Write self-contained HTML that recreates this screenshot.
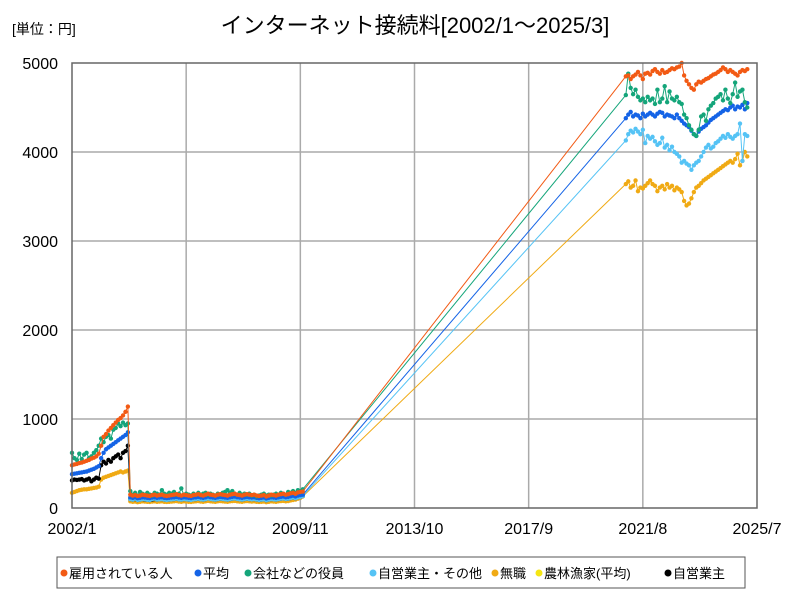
<!DOCTYPE html>
<html><head><meta charset="utf-8">
<style>
body{margin:0;background:#fff;}
svg{font-family:"Liberation Sans","Noto Sans CJK JP",sans-serif;}
</style></head>
<body>
<svg id="chart" width="800" height="600" viewBox="0 0 800 600" xmlns="http://www.w3.org/2000/svg">
<rect width="800" height="600" fill="#fff"/>
<text x="415" y="33" font-size="22" text-anchor="middle" fill="#000">インターネット接続料[2002/1～2025/3]</text>
<text x="12" y="34" font-size="14" fill="#000">[単位：円]</text>
<g id="grid"></g>
<g id="series"></g>
<rect x="72" y="63" width="685" height="445" fill="none" stroke="#666" stroke-width="1.5"/>
<g id="legend">
<rect x="57" y="557" width="688" height="31" fill="#fff" stroke="#555" stroke-width="1"/>
</g>
</svg>
<script>
const xTickLabels=["2002/1","2005/12","2009/11","2013/10","2017/9","2021/8","2025/7"];
const yTickLabels=[0,1000,2000,3000,4000,5000];
const seriesNames=["雇用されている人","平均","会社などの役員","自営業主・その他","無職","農林漁家(平均)","自営業主"];
const seriesColors=["#f25a14","#1463e6","#14a57a","#55c3f5","#f0aa14","#f5e614","#000000"];
const earlyStart=[0,0,0,24,0,24,0];
const lateStart=228;
const orangeEarly=[480,490,495,505,510,520,530,540,555,565,580,610,700,800,830,870,900,930,960,990,1010,1040,1080,1140,150,140,145,135,140,150,145,140,135,145,150,140,145,150,140,135,140,145,150,155,145,140,150,145,140,135,145,150,155,145,140,150,160,150,145,140,150,155,150,145,140,150,155,160,150,145,140,150,155,150,145,150,140,135,140,145,130,140,150,145,140,150,155,160,150,155,165,170,160,175,180,185];
const blueEarly=[380,385,390,395,400,405,410,420,430,440,455,470,560,620,660,680,700,720,740,760,780,800,820,850,120,115,120,110,115,120,118,115,112,118,120,115,118,120,115,112,115,118,120,125,118,115,120,118,115,112,118,120,125,118,115,120,128,122,118,115,120,125,122,118,115,120,125,128,122,118,115,120,125,120,118,120,115,110,115,118,108,115,120,118,115,120,125,128,122,125,132,138,130,140,145,150];
const greenEarly=[620,560,540,610,550,600,620,560,580,620,650,700,780,740,800,820,780,880,900,950,920,960,930,950,190,150,170,140,180,160,150,170,150,140,170,160,150,200,160,150,170,160,180,150,160,220,150,160,150,140,160,150,170,150,160,170,150,160,150,140,160,150,170,180,200,170,190,160,150,170,150,160,150,160,140,150,130,140,150,160,140,150,140,150,160,150,170,160,150,180,170,190,170,200,190,210];
const lightblueEarly=[100,95,105,90,95,100,98,92,90,100,105,95,98,100,95,90,95,98,100,105,98,95,100,98,95,90,98,100,105,98,95,100,108,102,98,95,100,105,102,98,95,100,105,108,102,98,95,100,105,100,98,100,95,90,95,98,88,95,100,98,95,100,105,108,102,105,112,118,110,120,125,135];
const mushokuEarly=[170,180,190,200,205,210,210,215,220,225,230,240,320,340,350,360,370,380,390,400,410,400,410,420,75,70,72,65,70,75,72,70,68,72,75,70,72,75,70,68,70,72,75,78,72,70,75,72,70,68,72,75,78,72,70,75,80,75,72,70,75,78,75,72,70,75,78,80,75,72,70,75,78,75,72,75,70,68,70,72,65,70,75,72,70,75,78,80,75,78,85,90,95,105,115,130];
const nouringyoEarly=[110,105,110,100,105,110,108,105,102,108,110,105,108,110,105,102,105,108,110,115,108,105,110,108,105,102,108,110,115,108,105,110,118,112,108,105,110,115,112,108,105,110,115,118,112,108,105,110,115,110,108,110,105,100,105,108,98,105,110,108,105,110,115,118,112,115,122,128,120,130,135,145];
const blackEarly=[310,320,315,320,325,310,320,330,300,320,340,330,480,520,500,540,520,560,580,600,560,620,640,700,100,95,100,90,95,100,95,92,90,95,100,95,98,100,95,92,95,98,100,105,98,95,100,98,95,92,98,100,105,98,95,100,108,102,98,95,100,105,102,98,95,100,105,108,102,98,95,100,105,100,98,100,95,90,95,98,88,95,100,98,95,100,105,108,102,105,112,118,110,120,125,135];
const orangeLate=[4850,4860,4820,4850,4870,4900,4860,4820,4880,4890,4870,4910,4930,4900,4880,4920,4890,4900,4920,4940,4930,4950,4960,5000,4860,4800,4760,4720,4700,4760,4790,4780,4800,4820,4830,4850,4870,4880,4900,4920,4950,4930,4900,4920,4900,4880,4860,4900,4920,4910,4930];
const blueLate=[4380,4420,4450,4400,4420,4410,4380,4430,4400,4420,4440,4420,4400,4430,4450,4440,4400,4420,4410,4400,4380,4420,4380,4350,4320,4300,4280,4240,4200,4180,4230,4260,4280,4300,4330,4360,4380,4400,4420,4440,4460,4480,4470,4500,4520,4480,4510,4500,4530,4480,4550];
const greenLate=[4640,4880,4720,4650,4700,4620,4580,4600,4560,4620,4580,4600,4540,4700,4560,4600,4740,4560,4680,4600,4580,4620,4560,4540,4420,4380,4300,4250,4200,4180,4250,4400,4420,4350,4480,4520,4550,4600,4620,4650,4580,4700,4600,4550,4650,4780,4620,4680,4700,4560,4500];
const lightblueLate=[4130,4200,4240,4220,4260,4230,4200,4250,4100,4180,4150,4170,4120,4080,4100,4160,4050,4080,4020,4060,4000,3980,3950,3880,3900,3870,3850,3800,3850,3880,3900,3950,4000,4050,4080,4040,4060,4100,4120,4150,4180,4160,4200,4170,4150,4180,4200,4320,3900,4200,4180];
const mushokuLate=[3640,3670,3600,3620,3680,3560,3600,3590,3620,3650,3680,3640,3620,3560,3600,3620,3580,3640,3600,3620,3570,3600,3580,3550,3450,3400,3420,3480,3550,3600,3620,3650,3680,3700,3720,3740,3760,3780,3800,3820,3840,3860,3880,3900,3880,3920,3980,3850,3900,4000,3950];
const earlyData=[orangeEarly,blueEarly,greenEarly,lightblueEarly,mushokuEarly,nouringyoEarly,blackEarly];
const lateData=[orangeLate,blueLate,greenLate,lightblueLate,mushokuLate,[],[]];

const NS="http://www.w3.org/2000/svg";
const X0=72,X1=757,Y0=508,Y1=63,MONTHS=282,YMAX=5000;
const xs=m=>X0+(X1-X0)*m/MONTHS;
const ys=v=>Y0-(Y0-Y1)*v/YMAX;
function mk(tag,attrs,parent){const e=document.createElementNS(NS,tag);for(const k in attrs)e.setAttribute(k,attrs[k]);parent.appendChild(e);return e;}
const grid=document.getElementById('grid');
const sg=document.getElementById('series');
yTickLabels.forEach((v,i)=>{
  if(i>0&&i<yTickLabels.length-1){const l=mk('line',{x1:X0,x2:X1,y1:ys(v),y2:ys(v),stroke:'#aaa','stroke-width':1.5},grid);
  
  }
  const t=mk('text',{x:X0-14,y:ys(v)+6,'font-size':16,'text-anchor':'end',fill:'#000'},grid);
  
  
  t.textContent=v;
});
xTickLabels.forEach((s,i)=>{
  const m=i*47;
  if(i>0&&i<xTickLabels.length-1){const l=mk('line',{x1:xs(m),x2:xs(m),y1:Y1,y2:Y0,stroke:'#aaa','stroke-width':1.5},grid);
  
  }
  const t=mk('text',{x:xs(m),y:534,'font-size':16,'text-anchor':'middle',fill:'#000'},grid);
  
  
  t.textContent=s;
});
const order=[4,5,6,3,1,2,0];
order.forEach(si=>{
  const pts=[];
  earlyData[si].forEach((v,i)=>pts.push([earlyStart[si]+i,v]));
  lateData[si].forEach((v,i)=>pts.push([lateStart+i,v]));
  const g=mk('g',{},sg);
  
  
  const pl=mk('polyline',{points:pts.map(p=>xs(p[0])+','+ys(p[1])).join(' '),fill:'none',stroke:seriesColors[si],'stroke-width':1},g);
  
  
  pts.forEach(p=>{
    const c=mk('circle',{cx:xs(p[0]),cy:ys(p[1]),r:2.2,fill:seriesColors[si]},g);
    
    
  });
});
const lg=document.getElementById('legend');
const legX=[60,194,244,369,491,535,664];
seriesNames.forEach((n,i)=>{
  const c=mk('circle',{cx:legX[i]+4,cy:573,r:3.5,fill:seriesColors[i]},lg);
  
  
  const t=mk('text',{x:legX[i]+9,y:578,'font-size':13,fill:'#000'},lg);
  
  
  t.textContent=n;
});
</script>
</body></html>
